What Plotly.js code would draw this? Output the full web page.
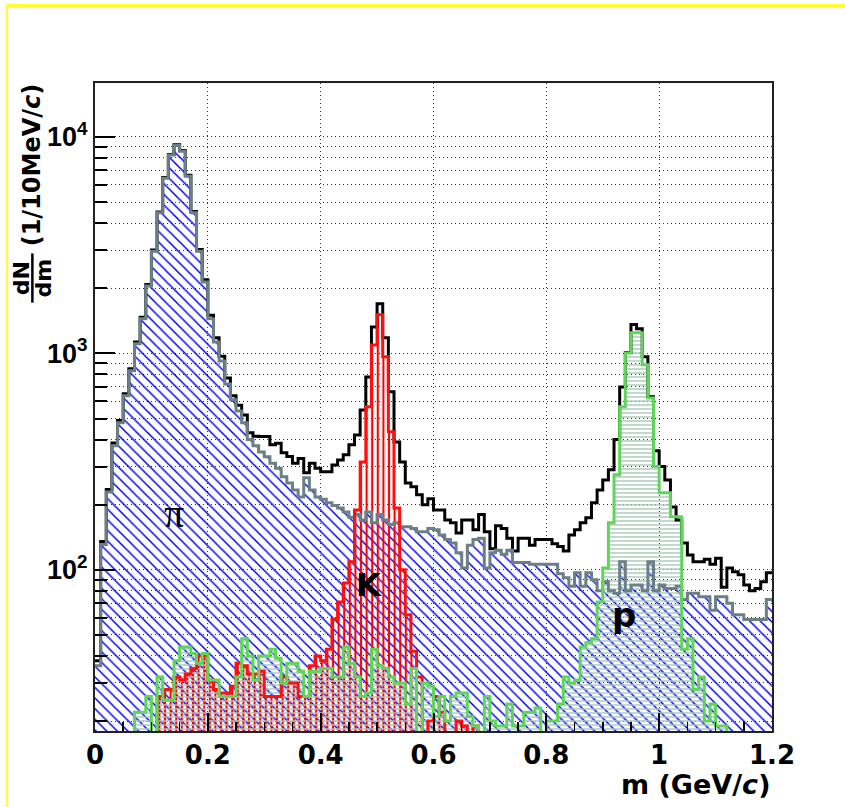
<!DOCTYPE html>
<html><head><meta charset="utf-8">
<script src="https://cdn.plot.ly/plotly-3.0.1.min.js"></script>
<style>
html,body{margin:0;padding:0;background:#fff;}
#wrap{position:relative;width:845px;height:807px;overflow:hidden;}
#chart{width:845px;height:807px;}
#frame{position:absolute;left:6px;top:4px;width:850px;height:820px;border-top:3px solid #ffff33;border-left:2px solid #ffff33;pointer-events:none;box-sizing:border-box;}
</style></head><body>
<div id="wrap"><div id="chart"></div><div id="frame"></div></div>
<script>
// histogram binning (GeV/c^2)
const binWidth = 0.01;
const nBins = 120;
const xMin = 0;

// counts per 10 MeV bin
const pionCounts = [36,131,229,374,478,637,831,1107,1445,2048,
  2963,4460,6450,8250,9140,8590,6590,4460,2963,2135,
  1445,1130,921,721,611,541,478,400,374,350,
  333,311,295,269,252,234,217,266,234,217,
  212,204,198,193,185,175,180,170,185,165,
  180,170,162,165,158,158,155,150,150,155,
  153,145,138,133,120,102,130,138,140,102,
  120,123,118,123,108,108,108,106,106,106,
  106,106,96,92,84,97,84,97,90,80,
  88,80,78,109,80,85,85,80,109,80,
  85,82,82,84,73,78,78,75,75,65,
  75,75,70,62,62,59,59,59,59,73];

const kaonCounts = [0,0,0,0,0,0,0,0,0,0,
  0,26,28,28,32,31,33,35,40,40,
  31,28,27,27,29,37,36,33,33,34,
  26,26,26,32,30,30,26,26,36,40,
  38,43,59,71,87,109,189,315,566,1094,
  1507,964,434,193,100,62,42,32,0,20,
  26,22,0,0,20,19,0,19,0,0,
  0,0,0,0,0,0,0,0,0,0,
  0,0,0,0,0,0,0,0,0,0,
  0,0,0,0,0,0,0,0,0,0,
  0,0,0,0,0,0,0,0,0,0,
  0,0,0,0,0,0,0,0,0,0];

const protonCounts = [0,0,0,0,0,0,0,22,22,26,
  0,32,25,25,38,44,44,41,37,41,
  31,31,26,26,26,32,48,40,31,40,
  40,43,39,30,37,37,34,26,34,34,
  35,35,32,32,44,37,32,26,27,43,
  36,35,32,30,30,24,35,0,30,29,
  21,26,20,26,27,27,21,19,0,26,
  20,19,19,24,19,19,22,22,23,0,
  20,20,24,32,30,31,44,46,48,71,
  102,165,275,566,1005,1244,1244,886,622,300,
  227,227,176,176,43,48,28,32,20,24,
  19,19,0,0,0,0,0,0,0,0];

const totalCounts = [38,135,235,385,490,650,850,1130,1470,2080,
  3000,4500,6500,8300,9200,8650,6650,4520,3020,2190,
  1500,1180,970,770,637,576,519,430,414,413,
  413,378,384,347,334,311,327,281,311,295,
  284,284,305,322,340,378,420,548,778,1324,
  1695,1180,664,390,315,252,242,222,200,213,
  189,189,170,165,148,170,170,153,180,150,
  125,160,155,140,122,140,140,130,138,138,
  138,132,128,122,145,153,165,174,204,234,
  260,290,400,700,1010,1360,1300,966,630,355,
  300,260,195,170,133,117,109,109,112,106,
  113,83,102,98,95,85,80,82,88,97];

const xTickVals = [0,0.2,0.4,0.6,0.8,1.0,1.2];
const xTickText = ['0','0.2','0.4','0.6','0.8','1','1.2'];
const yMajorVals = [100,1000,10000];
const yMajorText = ['10<sup>2</sup>','10<sup>3</sup>','10<sup>4</sup>'];

const yRange = [Math.log10(18), Math.log10(17750)];
const edges = Array.from({length:nBins+1},(_,i)=>+(xMin+i*binWidth).toFixed(4));
const centers = Array.from({length:nBins},(_,i)=>+(xMin+(i+0.5)*binWidth).toFixed(4));

const yMinorVals = [];
[10,100,1000].forEach(d=>{for(let k=2;k<=9;k++) yMinorVals.push(k*d);});

function barTrace(counts, pattern){
  return {type:'bar', x:centers, y:counts.map(v=>v>0?v:null), width:binWidth,
    marker:{color:'rgba(0,0,0,0)', line:{width:0}, pattern:pattern},
    hoverinfo:'skip', showlegend:false};
}
function lineTrace(counts, color, width){
  const y = counts.map(v=>v>0?v:1);
  y.push(y[y.length-1]);
  return {type:'scatter', mode:'lines', x:edges, y:y,
    line:{shape:'hv', color:color, width:width}, hoverinfo:'skip', showlegend:false};
}

const traces = [
  barTrace(pionCounts, {shape:'\\', fgcolor:'#0000ff', bgcolor:'rgba(0,0,0,0)', size:7.5, solidity:0.2, fillmode:'replace'}),
  barTrace(kaonCounts, {shape:'|', fgcolor:'#ff0000', bgcolor:'rgba(0,0,0,0)', size:5.6, solidity:0.38, fillmode:'replace'}),
  barTrace(protonCounts, {shape:'-', fgcolor:'#a8c8bc', bgcolor:'rgba(0,0,0,0)', size:4, solidity:0.35, fillmode:'replace'}),
  lineTrace(totalCounts, '#000000', 3),
  lineTrace(pionCounts, '#6b7f86', 3),
  lineTrace(kaonCounts, '#ff1010', 3),
  lineTrace(protonCounts, '#5fd65a', 3),
  {type:'scatter', mode:'markers', x:[0.5], y:[100], yaxis:'y2', marker:{opacity:0}, hoverinfo:'skip', showlegend:false}
];

const tickFontX = {family:'DejaVu Sans', size:26, weight:'bold', color:'#000'};
const tickFontY = {family:'Liberation Sans', size:27, weight:'bold', color:'#000'};
const gridDash = '1px,3px';

const layout = {
  width:845, height:807,
  margin:{l:95, r:73, t:83, b:76},
  paper_bgcolor:'#ffffff', plot_bgcolor:'#ffffff',
  barmode:'overlay', bargap:0, showlegend:false,
  xaxis:{range:[0,1.2], tickmode:'array', tickvals:xTickVals, ticktext:xTickText,
    ticks:'inside', ticklen:18, tickwidth:2, tickcolor:'#000',
    minor:{tickmode:'linear', tick0:0, dtick:0.05, ticks:'inside', ticklen:9, tickwidth:1.5, tickcolor:'#000', showgrid:false},
    showline:true, linecolor:'#222', linewidth:2, mirror:true,
    showgrid:true, gridcolor:'#333', gridwidth:1, griddash:gridDash, zeroline:false,
    tickfont:tickFontX, ticklabelstandoff:0},
  yaxis:{type:'log', range:yRange, tickmode:'array', tickvals:yMajorVals, ticktext:yMajorText,
    ticks:'inside', ticklen:20, tickwidth:2, tickcolor:'#000',
    showline:true, linecolor:'#222', linewidth:2, mirror:true,
    showgrid:true, gridcolor:'#333', gridwidth:1, griddash:gridDash, zeroline:false,
    tickfont:tickFontY},
  yaxis2:{type:'log', range:yRange, overlaying:'y', side:'left', tickmode:'array', tickvals:yMinorVals,
    ticks:'inside', ticklen:12, tickwidth:2, tickcolor:'#000', showticklabels:false,
    showline:false, showgrid:true, gridcolor:'#333', gridwidth:1, griddash:gridDash, zeroline:false},
  annotations:[
    {text:'π', xref:'x', yref:'paper', x:0.14, y:0.335, xanchor:'center', yanchor:'middle', showarrow:false,
      font:{family:'Liberation Serif', size:40, color:'#000'}},
    {text:'K', xref:'x', yref:'paper', x:0.485, y:0.225, xanchor:'center', yanchor:'middle', showarrow:false,
      font:{family:'DejaVu Sans', size:32, weight:'bold', color:'#000'}},
    {text:'p', xref:'x', yref:'paper', x:0.938, y:0.179, xanchor:'center', yanchor:'middle', showarrow:false,
      font:{family:'DejaVu Sans', size:34, weight:'bold', color:'#000'}},
    {text:'m (GeV/<i>c</i>)', xref:'paper', yref:'paper', x:1.0, xanchor:'right', y:-0.083, yanchor:'middle', showarrow:false,
      font:{family:'DejaVu Sans', size:27, weight:'bold', color:'#000'}},
    {text:'(1/10MeV/<i>c</i>)', xref:'paper', yref:'paper', x:-0.093, y:0.873, xanchor:'center', yanchor:'middle', textangle:-90, showarrow:false,
      font:{family:'DejaVu Sans', size:24, weight:'bold', color:'#000'}},
    {text:'dN', xref:'paper', yref:'paper', x:-0.109, y:0.699, xanchor:'center', yanchor:'middle', textangle:-90, showarrow:false,
      font:{family:'DejaVu Sans', size:22, weight:'bold', color:'#000'}},
    {text:'dm', xref:'paper', yref:'paper', x:-0.076, y:0.699, xanchor:'center', yanchor:'middle', textangle:-90, showarrow:false,
      font:{family:'DejaVu Sans', size:22, weight:'bold', color:'#000'}}
  ],
  shapes:[
    {type:'line', xref:'paper', yref:'paper', x0:-0.0925, x1:-0.0925, y0:0.661, y1:0.737, line:{color:'#000', width:2.5}}
  ]
};

Plotly.newPlot('chart', traces, layout, {staticPlot:true, displayModeBar:false});
</script>
</body></html>
